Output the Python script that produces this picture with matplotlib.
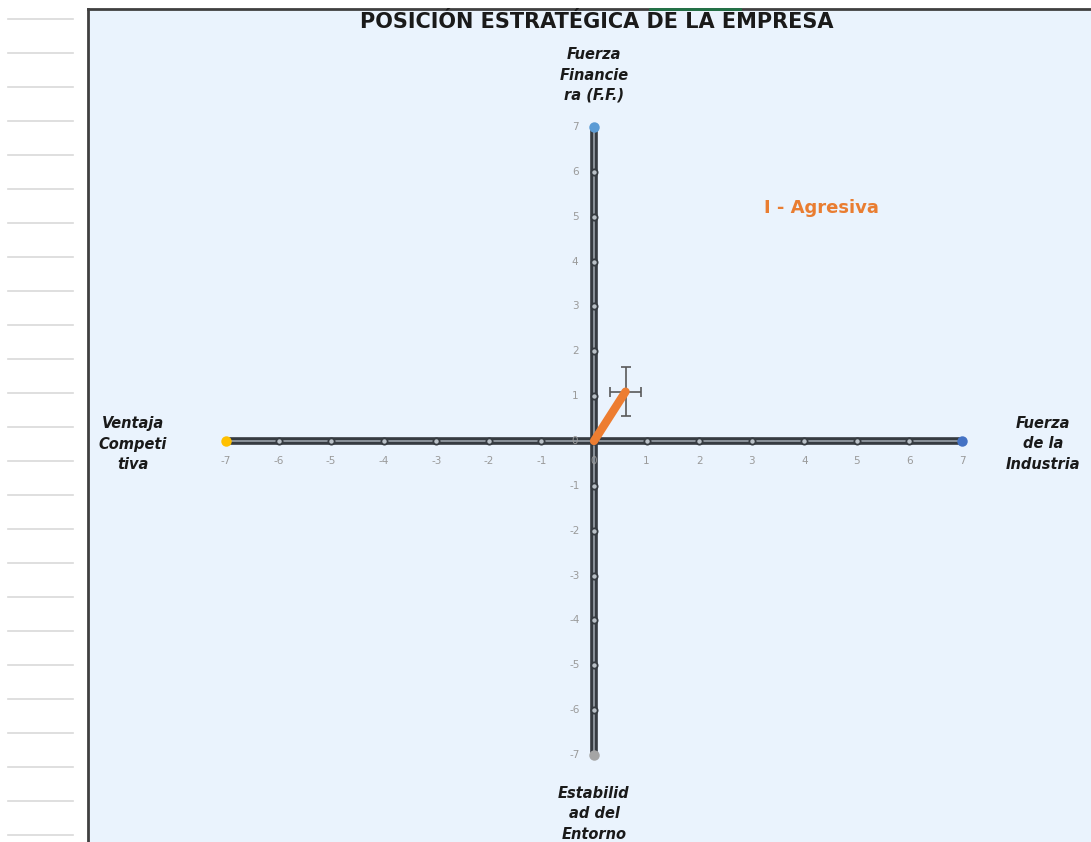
import numpy as np
import matplotlib.pyplot as plt
from matplotlib.patches import Rectangle
from matplotlib.lines import Line2D

# escala de los ejes
ticks = list(range(-7, 8))
axis_limit = 7

# extremos de cada eje y su color
end_points_x = [-7, 7]
end_points_y = [7, -7]
end_colors_x = ['#FFC000', '#4472C4']
end_colors_y = ['#5B9BD5', '#A5A5A5']

# vector de posición estratégica y sus barras de error
vector_x = [0, 0.6]
vector_y = [0, 1.1]
err_x = 0.3
err_y = 0.55

title = 'POSICIÓN ESTRATÉGICA DE LA EMPRESA'
label_top = 'Fuerza\nFinancie\nra (F.F.)'
label_left = 'Ventaja\nCompeti\ntiva'
label_right = 'Fuerza\nde la\nIndustria'
label_bottom = 'Estabilid\nad del\nEntorno'
quadrant = 'I - Agresiva'

W, H = 1091, 842
fig = plt.figure(figsize=(W / 100, H / 100), dpi=100)
fig.patch.set_facecolor('white')

# fondo del gráfico y lineas de filas de la hoja
fig.patches.append(Rectangle((88 / W, 0), 1, 1 - 9 / H, transform=fig.transFigure,
                             facecolor='#EAF3FD', edgecolor='none', zorder=-5))
fig.lines.append(Line2D([88 / W, 88 / W], [0, 1 - 9 / H], transform=fig.transFigure,
                        color='#404040', lw=2, zorder=-4))
fig.lines.append(Line2D([88 / W, 1], [1 - 9 / H, 1 - 9 / H], transform=fig.transFigure,
                        color='#404040', lw=2, zorder=-4))
fig.lines.append(Line2D([650 / W, 740 / W], [1 - 9 / H, 1 - 9 / H], transform=fig.transFigure,
                        color='#217346', lw=2, zorder=-3))
for yp in np.arange(19, 842, 34.0):
    fig.lines.append(Line2D([8 / W, 73 / W], [1 - yp / H, 1 - yp / H],
                            transform=fig.transFigure, color='#d9d9d9', lw=1.2, zorder=-4))

ax = fig.add_axes([226 / W, (H - 755) / H, 736 / W, 628 / H])
ax.set_zorder(2)
ax.set_xlim(-axis_limit, axis_limit)
ax.set_ylim(-axis_limit, axis_limit)
ax.axis('off')

# ejes dibujados como series
zeros = [0] * len(ticks)
for xs, ys in [(ticks, zeros), (zeros, ticks)]:
    ax.plot(xs, ys, color='#363b41', lw=5.5, zorder=2, clip_on=False,
            solid_capstyle='butt')
    ax.plot(xs, ys, color='#8b929a', lw=1.4, zorder=3, clip_on=False,
            marker='o', markersize=4.5, markerfacecolor='#b9c0c7',
            markeredgecolor='#363b41', markeredgewidth=1.3)

for x, c in zip(end_points_x, end_colors_x):
    ax.plot(x, 0, 'o', color=c, markersize=6.5, zorder=5, clip_on=False)
for y, c in zip(end_points_y, end_colors_y):
    ax.plot(0, y, 'o', color=c, markersize=6.5, zorder=5, clip_on=False)

# etiquetas de escala
for t in ticks:
    ax.text(t, -0.45, str(t), color='#9a9a9a', fontsize=7.5, ha='center', va='center')
    ax.text(-0.36, t, str(t), color='#9a9a9a', fontsize=7.5, ha='center', va='center')

# vector resultante
ax.plot(vector_x, vector_y, color='#ED7D31', lw=6, zorder=6, solid_capstyle='round')
ax.errorbar(vector_x[-1], vector_y[-1], xerr=err_x, yerr=err_y, fmt='none',
            ecolor='#595959', elinewidth=1.2, capsize=3.5, capthick=1.2, zorder=5)

label_style = dict(fontsize=10.5, fontweight='bold', fontstyle='italic',
                   ha='center', va='center', color='#1a1a1a', linespacing=1.45,
                   family='DejaVu Sans')
fig.text(594 / W, 1 - 75 / H, label_top, **label_style)
fig.text(133 / W, 1 - 444 / H, label_left, **label_style)
fig.text(1043 / W, 1 - 444 / H, label_right, **label_style)
fig.text(594 / W, 1 - 814 / H, label_bottom, **label_style)

fig.text(597 / W, 1 - 22 / H, title, fontsize=15, fontweight='bold', color='#1a1a1a',
         ha='center', va='center', family='DejaVu Sans')
fig.text(821 / W, 1 - 208 / H, quadrant, fontsize=13, fontweight='bold', color='#E97D31',
         ha='center', va='center', family='DejaVu Sans')

fig.savefig('out.png', dpi=100)
